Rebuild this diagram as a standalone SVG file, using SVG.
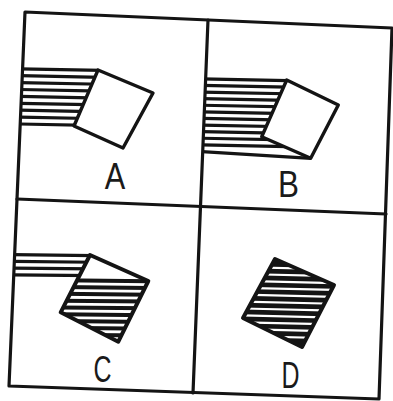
<svg xmlns="http://www.w3.org/2000/svg" width="393" height="401" viewBox="0 0 393 401">
<style>
.frame{fill:none;stroke:#141414;stroke-width:3.2;stroke-linejoin:round;stroke-linecap:round}
.hatch{stroke:#141414;stroke-width:3.2;fill:none}
.thick{stroke:#141414;stroke-width:4;fill:none}
.white{stroke:#ffffff;stroke-width:2.2;fill:none}
.sq{fill:#ffffff;stroke:#141414;stroke-width:3.4;stroke-linejoin:round}
.sqb{fill:none;stroke:#141414;stroke-width:4;stroke-linejoin:round}
.lbl{font-family:"Liberation Sans",Arial,sans-serif;font-size:36px;fill:#1a1a1a;text-anchor:middle}
</style>
<defs>
<clipPath id="clipA"><polygon points="22.9,60 101.4,62 72.3,130 20,130"/></clipPath>
<clipPath id="clipB"><polygon points="205.8,72 288.9,75 261.7,136.7 312,159 311,165 202.4,165"/></clipPath>
<clipPath id="clipC"><polygon points="14.8,248 93.6,248 77.2,280 13.5,280"/></clipPath>
<clipPath id="clipCin"><polygon points="90,255 148.3,281 118.3,341.7 60.7,312.3"/></clipPath>
<clipPath id="clipD"><polygon points="275,259 334,285 302,347 243,318"/></clipPath>
</defs>
<rect width="393" height="401" fill="#ffffff"/>

<g id="connectors">
<polygon class="frame" points="25,12 392,28 379,399 9,386"/>
<line class="frame" x1="208" y1="20" x2="193" y2="393"/>
<line class="frame" x1="17" y1="199" x2="386" y2="214"/>
</g>

<g id="panelA">
<g clip-path="url(#clipA)" class="hatch">
<path d="M10 68.6 L110 70.6"/>
<path d="M10 75.5 L110 77.5"/>
<path d="M10 82.4 L110 84.4"/>
<path d="M10 89.3 L110 91.3"/>
<path d="M10 96.2 L110 98.2"/>
<path d="M10 103.1 L110 105.1"/>
<path d="M10 110 L110 112"/>
<path d="M10 116.9 L110 118.9"/>
<path d="M10 123.8 L110 125.8"/>
</g>
<polygon class="sq" points="98,70 153,93 123,148 74,126"/>
<text class="lbl" x="115" y="189" textLength="20.5" lengthAdjust="spacingAndGlyphs">A</text>
</g>

<g id="panelB">
<g clip-path="url(#clipB)" class="hatch">
<path d="M200 78.8 L320 81.2"/>
<path d="M200 85.4 L320 87.8"/>
<path d="M200 92 L320 94.4"/>
<path d="M200 98.6 L320 101"/>
<path d="M200 105.2 L320 107.6"/>
<path d="M200 111.8 L320 114.2"/>
<path d="M200 118.4 L320 120.8"/>
<path d="M200 125 L320 127.4"/>
<path d="M200 131.6 L320 134"/>
<path d="M200 138.2 L320 140.6"/>
<path d="M200 144.8 L320 147.2"/>
<path d="M200 151.5 L311 158.3"/>
</g>
<polygon class="sq" points="286.7,80 338.3,105 310.7,158.3 261.7,136.7"/>
<text class="lbl" x="288.5" y="197" textLength="21" lengthAdjust="spacingAndGlyphs">B</text>
</g>

<g id="panelC">
<g clip-path="url(#clipC)" class="hatch">
<path d="M5 254.6 L100 255.6"/>
<path d="M5 261.3 L100 262.3"/>
<path d="M5 268 L100 269"/>
<path d="M5 274.7 L100 275.7"/>
</g>
<g clip-path="url(#clipCin)" class="thick">
<path d="M55 280.2 L155 281.2"/>
<path d="M55 287 L155 288"/>
<path d="M55 293.8 L155 294.8"/>
<path d="M55 300.6 L155 301.6"/>
<path d="M55 307.4 L155 308.4"/>
<path d="M55 314.2 L155 315.2"/>
<path d="M55 321 L155 322"/>
<path d="M55 327.8 L155 328.8"/>
<path d="M55 334.6 L155 335.6"/>
</g>
<polygon class="sqb" points="90,255 148.3,281 118.3,341.7 60.7,312.3"/>
<text class="lbl" x="102.5" y="382" textLength="18" lengthAdjust="spacingAndGlyphs">C</text>
</g>

<g id="panelD">
<polygon points="275,259 334,285 302,347 243,318" fill="#141414"/>
<g clip-path="url(#clipD)" class="white">
<path d="M238 267 L340 269.4"/>
<path d="M238 273.9 L340 276.3"/>
<path d="M238 280.8 L340 283.2"/>
<path d="M238 287.7 L340 290.1"/>
<path d="M238 294.6 L340 297"/>
<path d="M238 301.5 L340 303.9"/>
<path d="M238 308.4 L340 310.8"/>
<path d="M238 315.3 L340 317.7"/>
<path d="M238 322.2 L340 324.6"/>
<path d="M238 329.1 L340 331.5"/>
<path d="M238 336 L340 338.4"/>
</g>
<polygon class="sqb" points="275,259 334,285 302,347 243,318" stroke-width="5"/>
<text class="lbl" x="290.5" y="388" textLength="18" lengthAdjust="spacingAndGlyphs">D</text>
</g>
</svg>
